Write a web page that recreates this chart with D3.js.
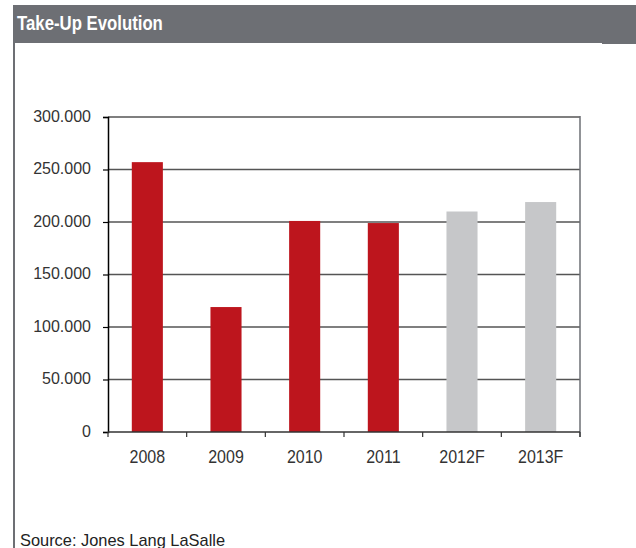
<!DOCTYPE html>
<html>
<head>
<meta charset="utf-8">
<script src="https://cdn.jsdelivr.net/npm/d3@7"></script>
<style>
  html, body { margin: 0; padding: 0; background: #fff; }
  svg { display: block; font-family: "Liberation Sans", Arial, sans-serif; }
</style>
</head>
<body>
<svg id="chart" width="636" height="548"></svg>
<script>
// Office take-up per year (sq m); 2012 and 2013 are forecasts
const years = ["2008", "2009", "2010", "2011", "2012F", "2013F"];
const takeUp = [257000, 119000, 201000, 199000, 210000, 219000];
const isForecast = [false, false, false, false, true, true];
const yTicks = [0, 50000, 100000, 150000, 200000, 250000, 300000];

const svg = d3.select("#chart");
const W = 636, H = 548;
const headerGray = "#6d6f74";

// Header band with title
svg.append("rect").attr("x", 13).attr("y", 5).attr("width", W - 13).attr("height", 38).attr("fill", headerGray);
svg.append("rect").attr("x", 602).attr("y", 43).attr("width", W - 602).attr("height", 1).attr("fill", headerGray);
svg.append("rect").attr("x", 13).attr("y", 43).attr("width", 2).attr("height", H - 43).attr("fill", headerGray);
svg.append("text")
  .attr("transform", "translate(17,30) scale(0.86,1)")
  .attr("fill", "#fff").attr("font-weight", "bold").attr("font-size", 19.5)
  .text("Take-Up Evolution");

// Plot area
const plotLeft = 108, plotRight = 580, plotTop = 117, plotBottom = 432;
const x = d3.scaleBand().domain(years).range([plotLeft, plotRight]).paddingInner(0.605).paddingOuter(0.3025);
const y = d3.scaleLinear().domain([0, 300000]).range([plotBottom, plotTop]);

const locale = d3.formatLocale({ decimal: ",", thousands: ".", grouping: [3], currency: ["", ""] });
const fmt = locale.format(",");

// Horizontal gridlines
svg.append("g").selectAll("line").data(yTicks.filter(d => d > 0)).join("line")
  .attr("x1", plotLeft).attr("x2", plotRight)
  .attr("y1", d => y(d)).attr("y2", d => y(d))
  .attr("stroke", "#555").attr("stroke-width", 1.6);

// Right frame edge
svg.append("line").attr("x1", plotRight).attr("x2", plotRight).attr("y1", plotTop - 1).attr("y2", plotBottom + 5)
  .attr("stroke", "#6d6f74").attr("stroke-width", 1.5);

// Bars
svg.append("g").selectAll("rect").data(years).join("rect")
  .attr("x", d => x(d))
  .attr("width", x.bandwidth())
  .attr("y", (d, i) => y(takeUp[i]))
  .attr("height", (d, i) => y(0) - y(takeUp[i]))
  .attr("fill", (d, i) => isForecast[i] ? "#c6c7c9" : "#bd151d");

// Y axis
const yAxis = svg.append("g").attr("transform", `translate(${plotLeft},0)`)
  .call(d3.axisLeft(y).tickValues(yTicks).tickFormat(fmt).tickSize(5).tickPadding(12));
yAxis.select(".domain").attr("stroke", "#000").attr("stroke-width", 1.5);
yAxis.selectAll(".tick line").attr("stroke", "#000").attr("stroke-width", 1.2);
yAxis.selectAll(".tick text")
  .attr("font-size", 16).attr("fill", "#333").attr("dy", "0.28em")
  .attr("font-family", "'Liberation Sans', Arial, sans-serif");

// X axis with ticks between categories
const xAxis = svg.append("g").attr("transform", `translate(0,${plotBottom})`);
xAxis.append("line").attr("x1", plotLeft).attr("x2", plotRight).attr("y1", 0).attr("y2", 0)
  .attr("stroke", "#333").attr("stroke-width", 1.5);
const step = x.step();
xAxis.selectAll("line.tk").data(d3.range(years.length + 1)).join("line")
  .attr("class", "tk")
  .attr("x1", i => plotLeft + i * step).attr("x2", i => plotLeft + i * step)
  .attr("y1", 0).attr("y2", 5)
  .attr("stroke", "#333").attr("stroke-width", 1.2);
xAxis.selectAll("text").data(years).join("text")
  .attr("transform", d => `translate(${x(d) + x.bandwidth() / 2},30.5) scale(1,1.15)`)
  .attr("text-anchor", "middle").attr("font-size", 16).attr("fill", "#333")
  .text(d => d);

// Source note
svg.append("text")
  .attr("x", 20).attr("y", 545.5)
  .attr("font-size", 16.4).attr("fill", "#222")
  .text("Source: Jones Lang LaSalle");
</script>
</body>
</html>
